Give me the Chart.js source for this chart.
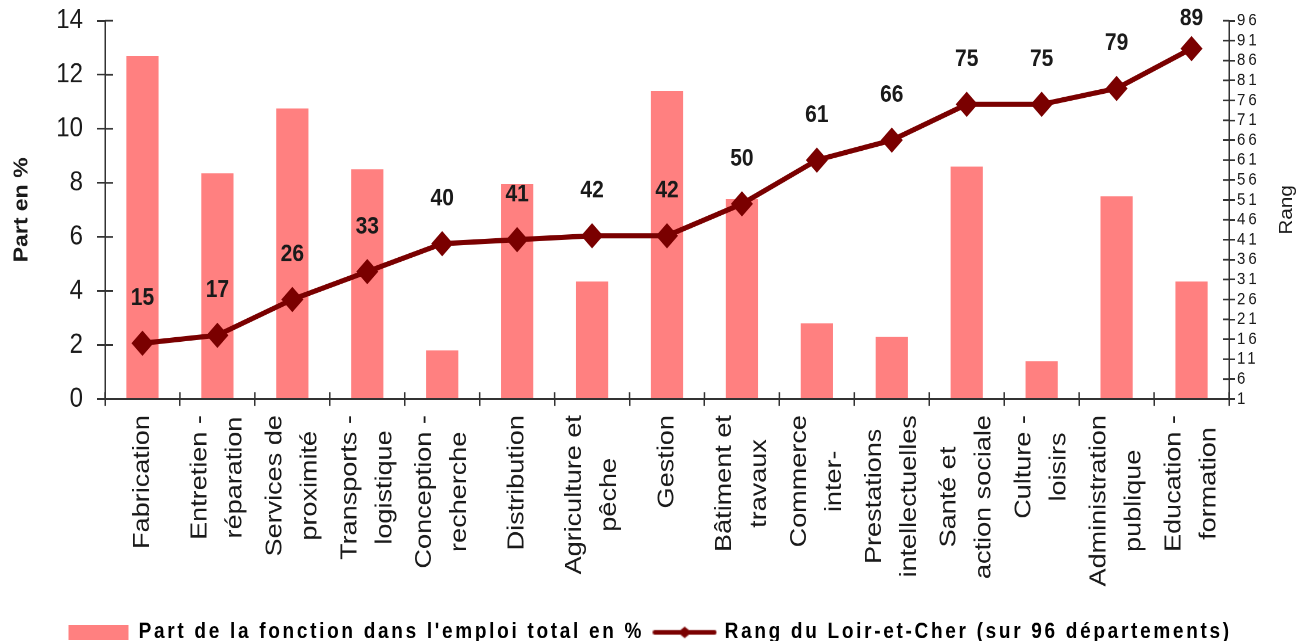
<!DOCTYPE html>
<html lang="fr">
<head>
<meta charset="utf-8">
<title>Part et rang des fonctions - Loir-et-Cher</title>
<script src="https://cdn.jsdelivr.net/npm/chart.js@4.4.1/dist/chart.umd.min.js"></script>
<style>
  html, body { margin: 0; padding: 0; background: #fff; width: 1300px; height: 641px; overflow: hidden; }
  /* the reference is slightly stretched vertically, so draw at 557px and scale to 641px */
  #wrap { width: 1300px; height: 557px; transform-origin: 0 0; transform: scaleY(1.1508); }
</style>
</head>
<body>
<div id="wrap"><canvas id="chart" width="1300" height="557"></canvas></div>
<script>
// ---------- data ----------
const categories = [
  ["Fabrication"],
  ["Entretien -", "réparation"],
  ["Services de", "proximité"],
  ["Transports -", "logistique"],
  ["Conception -", "recherche"],
  ["Distribution"],
  ["Agriculture et", "pêche"],
  ["Gestion"],
  ["Bâtiment et", "travaux"],
  ["Commerce", "inter-"],
  ["Prestations", "intellectuelles"],
  ["Santé et", "action sociale"],
  ["Culture -", "loisirs"],
  ["Administration", "publique"],
  ["Education -", "formation"]
];
const shareValues = [12.7, 8.35, 10.75, 8.5, 1.8, 7.95, 4.35, 11.4, 7.4, 2.8, 2.3, 8.6, 1.4, 7.5, 4.35];
const rankValues = [15, 17, 26, 33, 40, 41, 42, 42, 50, 61, 66, 75, 75, 79, 89];
const leftTickValues = [0, 2, 4, 6, 8, 10, 12, 14];
const rightTickValues = [1, 6, 11, 16, 21, 26, 31, 36, 41, 46, 51, 56, 61, 66, 71, 76, 81, 86, 91, 96];
const seriesNames = ["Part de la fonction dans l'emploi total en %", "Rang du Loir-et-Cher (sur 96 départements)"];
const axisTitles = ["Part en %", "Rang"];

// ---------- styles ----------
const FONT = "'Liberation Sans', Arial, sans-serif";
const TEXT = "#1a1a1a";
const AXIS = "#333";
const BAR = "#ff8080";
const LINE = "#7a0000";

// legend swatches
function swatchBar() {
  const c = document.createElement("canvas");
  c.width = 60; c.height = 13;
  const g = c.getContext("2d");
  g.fillStyle = BAR;
  g.fillRect(0, 0, 60, 13);
  return c;
}
function swatchLine() {
  const c = document.createElement("canvas");
  c.width = 64; c.height = 12;
  const g = c.getContext("2d");
  g.strokeStyle = LINE; g.lineWidth = 4; g.lineCap = "round";
  g.beginPath(); g.moveTo(2, 6); g.lineTo(62, 6); g.stroke();
  g.fillStyle = LINE;
  g.beginPath(); g.moveTo(32, 1); g.lineTo(39, 6); g.lineTo(32, 11); g.lineTo(25, 6); g.closePath(); g.fill();
  return c;
}

// ---------- small plugins ----------
// tick marks crossing the axes (inner half)
const innerTicks = {
  id: "innerTicks",
  afterDatasetsDraw(chart) {
    const { ctx, chartArea: a, scales } = chart;
    ctx.save();
    ctx.strokeStyle = AXIS; ctx.lineWidth = 1.5;
    ctx.beginPath();
    const n = categories.length;
    for (let i = 0; i <= n; i++) {
      const x = a.left + (a.right - a.left) * i / n;
      ctx.moveTo(x, a.bottom); ctx.lineTo(x, a.bottom - 6);
    }
    scales.y.ticks.forEach(t => {
      const y = scales.y.getPixelForValue(t.value);
      ctx.moveTo(a.left, y); ctx.lineTo(a.left + 8, y);
    });
    scales.y1.ticks.forEach(t => {
      const y = scales.y1.getPixelForValue(t.value);
      ctx.moveTo(a.right, y); ctx.lineTo(a.right - 6, y);
    });
    ctx.stroke();
    ctx.restore();
  }
};

// rank labels above the line points
const rankLabels = {
  id: "rankLabels",
  afterDatasetsDraw(chart) {
    const { ctx, chartArea } = chart;
    const meta = chart.getDatasetMeta(1);
    ctx.save();
    ctx.font = "bold 21px " + FONT;
    ctx.fillStyle = TEXT;
    ctx.textAlign = "center";
    ctx.textBaseline = "middle";
    meta.data.forEach((pt, i) => {
      const y = Math.max(pt.y - 39, chartArea.top - 2);
      ctx.fillText(String(rankValues[i]), pt.x, y);
    });
    ctx.restore();
  }
};

// vertical category labels (multi-line, centred) + right axis title
const axisText = {
  id: "axisText",
  afterDraw(chart) {
    const { ctx, chartArea: a } = chart;
    const xs = chart.scales.x;
    ctx.save();
    ctx.font = "23.5px " + FONT;
    ctx.fillStyle = TEXT;
    ctx.textAlign = "center";
    ctx.textBaseline = "middle";
    categories.forEach((lines, i) => {
      const cx = xs.getPixelForValue(i);
      const w = Math.max(...lines.map(l => ctx.measureText(l).width));
      const yc = xs.top + 14 + w / 2;
      lines.forEach((l, j) => {
        const lx = cx + (j - (lines.length - 1) / 2) * 35;
        ctx.save();
        ctx.translate(lx, yc);
        ctx.rotate(-Math.PI / 2);
        ctx.fillText(l, 0, 0);
        ctx.restore();
      });
    });
    // "Rang" reads bottom to top like the left title
    ctx.font = "18px " + FONT;
    ctx.translate(1287, (a.top + a.bottom) / 2);
    ctx.rotate(-Math.PI / 2);
    ctx.fillText(axisTitles[1], 0, 0);
    ctx.restore();
  }
};

// ---------- chart ----------
const ctx = document.getElementById("chart").getContext("2d");
const chart = new Chart(ctx, {
  type: "bar",
  data: {
    labels: categories,
    datasets: [
      {
        type: "bar",
        label: seriesNames[0],
        data: shareValues,
        backgroundColor: BAR,
        borderWidth: 0,
        barPercentage: 0.43,
        categoryPercentage: 1,
        yAxisID: "y",
        order: 2
      },
      {
        type: "line",
        label: seriesNames[1],
        data: rankValues,
        borderColor: LINE,
        backgroundColor: LINE,
        borderWidth: 4.5,
        pointStyle: "rectRot",
        pointRadius: 11,
        pointBackgroundColor: LINE,
        pointBorderWidth: 0,
        tension: 0,
        yAxisID: "y1",
        order: 1
      }
    ]
  },
  options: {
    responsive: false,
    devicePixelRatio: 2,
    animation: false,
    layout: { padding: { top: 18, bottom: -12, left: 0, right: 0 } },
    plugins: {
      tooltip: { enabled: false },
      legend: {
        position: "bottom",
        labels: {
          usePointStyle: true,
          pointStyleWidth: 61,
          boxHeight: 13,
          padding: 10,
          color: TEXT,
          font: { family: FONT, size: 19, weight: "bold" },
          generateLabels: () => [
            { text: seriesNames[0], pointStyle: swatchBar(), fillStyle: BAR, lineWidth: 0, hidden: false, datasetIndex: 0 },
            { text: seriesNames[1], pointStyle: swatchLine(), fillStyle: LINE, lineWidth: 0, hidden: false, datasetIndex: 1 }
          ]
        }
      }
    },
    scales: {
      x: {
        offset: true,
        grid: { display: true, offset: true, drawOnChartArea: false, tickLength: 6, color: AXIS, lineWidth: 1.5 },
        border: { display: true, color: AXIS, width: 1.5 },
        ticks: { display: false, autoSkip: false },
        afterFit: s => { s.height = 183.3; }
      },
      y: {
        position: "left",
        min: 0,
        max: 14,
        afterBuildTicks: s => { s.ticks = leftTickValues.map(v => ({ value: v })); },
        grid: { drawOnChartArea: false, tickLength: 8, color: AXIS, lineWidth: 1.5 },
        border: { display: true, color: AXIS, width: 1.5 },
        ticks: { color: TEXT, padding: 14, autoSkip: false, font: { family: FONT, size: 24 } },
        title: { display: true, text: axisTitles[0], color: TEXT, padding: { top: 10, bottom: 0 }, font: { family: FONT, size: 20, weight: "bold" } },
        afterFit: s => { s.width = 105; s.paddingTop = 10; s.paddingBottom = 10; }
      },
      y1: {
        position: "right",
        min: 1,
        max: 96,
        afterBuildTicks: s => { s.ticks = rightTickValues.map(v => ({ value: v })); },
        grid: { drawOnChartArea: false, tickLength: 6, color: AXIS, lineWidth: 1.5 },
        border: { display: true, color: AXIS, width: 1.5 },
        ticks: { color: TEXT, padding: 2, autoSkip: false, font: { family: FONT, size: 15 } },
        afterFit: s => { s.width = 71; s.paddingTop = 10; s.paddingBottom = 10; }
      }
    }
  },
  plugins: [innerTicks, rankLabels, axisText]
});

// the reference legend and right tick labels are letter-spaced
function spaced(obj, method, spacing) {
  const orig = obj[method].bind(obj);
  obj[method] = function (...args) {
    const c = chart.ctx;
    c.save();
    c.letterSpacing = spacing;
    const r = orig(...args);
    c.restore();
    return r;
  };
}
spaced(chart.legend, "fit", "2.7px");
spaced(chart.legend, "draw", "2.7px");
spaced(chart.scales.y1, "drawLabels", "3px");
chart.update();
</script>
</body>
</html>
